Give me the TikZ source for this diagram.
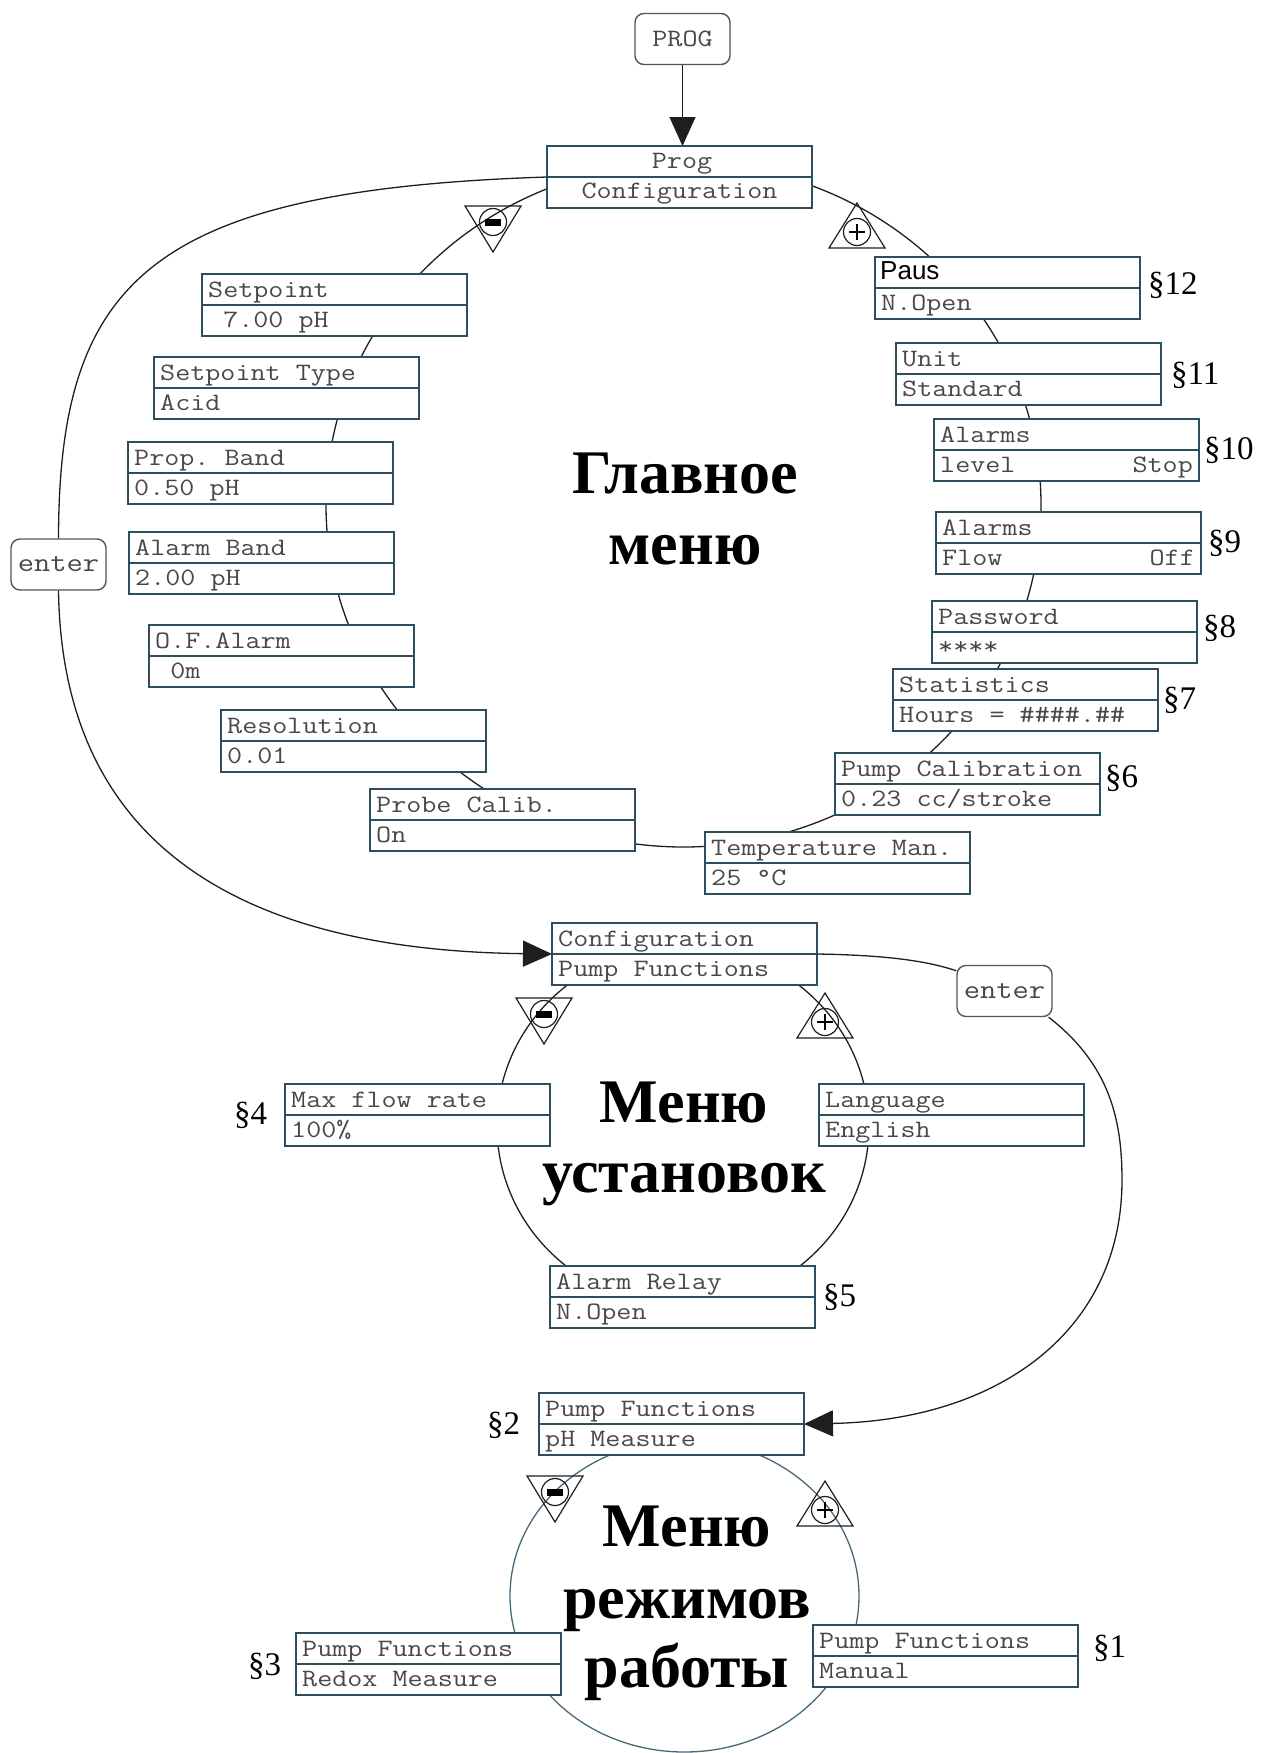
\documentclass[tikz,border=0pt]{standalone}
\usepackage{fontspec}
\usepackage{graphicx}
\newfontfamily\rusfont{Liberation Serif}
\newfontfamily\sansf{Liberation Sans}
\usetikzlibrary{arrows.meta}
\definecolor{boxc}{RGB}{44,78,94}
\definecolor{txtc}{RGB}{72,72,72}
\definecolor{ringc}{RGB}{30,30,30}
\definecolor{ringb}{RGB}{70,105,120}
\definecolor{btnc}{RGB}{85,85,85}
\newcommand\bt[1]{\scalebox{1.17}[1]{\fontsize{25}{30}\selectfont\ttfamily #1}}
\newcommand\btl[1]{\scalebox{1.17}[1]{\fontsize{27}{30}\selectfont\ttfamily #1}}
\newcommand\menubox[5]{%
  \node[mb] (#1) at ({#2+132.5},{#3+31}) {};
  \draw[mbl] (#1.west) -- (#1.east);
  \node[mt] at ({#2+6},{#3+23}) {\bt{#4}};
  \node[mt] at ({#2+6},{#3+53}) {\bt{#5}};
}
\newcommand\mtri[2]{%
  \draw[sym] ({#1-28},#2) -- ({#1+28},#2) -- (#1,{#2+46}) -- cycle;
  \draw[sym] (#1,{#2+16}) circle (13.5pt);
  \fill[black] ({#1-8},{#2+12.5}) rectangle ({#1+8},{#2+19.5});
}
\newcommand\ptri[2]{%
  \draw[sym] (#1,#2) -- ({#1+28},{#2+45}) -- ({#1-28},{#2+45}) -- cycle;
  \draw[sym] (#1,{#2+29}) circle (13.5pt);
  \draw[line width=2pt] ({#1-8},{#2+29}) -- ({#1+8},{#2+29}) (#1,{#2+21}) -- (#1,{#2+37});
}
\begin{document}
\frenchspacing
\begin{tikzpicture}[x=1pt,y=-1pt,
  mb/.style={draw=boxc, line width=2.2pt, fill=white, minimum width=265pt, minimum height=62pt, inner sep=0pt, outer sep=0pt},
  mbl/.style={draw=boxc, line width=2.2pt},
  mt/.style={anchor=base west, inner sep=0pt, text=txtc},
  btn/.style={draw=btnc, line width=1.4pt, rounded corners=9pt, fill=white, minimum width=95pt, minimum height=51pt, inner sep=0pt, text=txtc},
  ring/.style={draw=ringc, line width=1.3pt},
  conn/.style={draw=ringc, line width=1.3pt},
  arr/.style={-{Triangle[length=29pt,width=26pt]}},
  sym/.style={draw=ringc, line width=1.2pt},
  sec/.style={anchor=west, inner sep=0pt, font=\rusfont\fontsize{33}{36}\selectfont},
  ttl/.style={anchor=base, inner sep=0pt, font=\rusfont\bfseries\fontsize{62}{71}\selectfont}]
\useasboundingbox (0,0) rectangle (1261,1753);

% menu rings
\draw[ring] (683.5,505) ellipse [x radius=357.5pt, y radius=342pt];
\draw[ring] (683,1126) ellipse [x radius=186pt, y radius=180pt];
\draw[ring, draw=ringb] (684.5,1596) ellipse [x radius=174.5pt, y radius=156pt];

% PROG button
\node[btn] (progbtn) at (682.5,39) {\bt{PROG}};

% main menu
\node[mb] (prog) at (679.5,177) {};
\draw[mbl] (prog.west) -- (prog.east);
\node[anchor=base, inner sep=0pt, text=txtc] at (682,168) {\bt{Prog}};
\node[anchor=base, inner sep=0pt, text=txtc] at (679.5,198) {\bt{Configuration}};

\menubox{setpoint}{202}{274}{Setpoint}{\phantom{0}7.00 pH}
\menubox{sptype}{154}{357}{Setpoint Type}{Acid}
\menubox{propband}{128}{442}{Prop. Band}{0.50 pH}
\menubox{alarmband}{129}{532}{Alarm Band}{2.00 pH}
\menubox{ofalarm}{149}{625}{O.F.Alarm}{\phantom{0}0m}
\menubox{resolution}{221}{710}{Resolution}{0.01}
\menubox{probecal}{370}{789}{Probe Calib.}{On}
\menubox{temp}{705}{832}{Temperature Man.}{25 °C}
\menubox{pumpcal}{835}{753}{Pump Calibration}{0.23 cc/stroke}
\menubox{statistics}{893}{669}{Statistics}{Hours = \#\#\#\#.\#\#}
\menubox{password}{932}{601}{Password}{****}
\menubox{alflow}{936}{512}{Alarms}{Flow}
\node[mt, anchor=base east] at (1195,565) {\bt{Off}};
\menubox{allevel}{934}{419}{Alarms}{level}
\node[mt, anchor=base east] at (1193,472) {\bt{Stop}};
\menubox{unit}{896}{343}{Unit}{Standard}
\node[mb] (paus) at (1007.5,288) {};
\draw[mbl] (paus.west) -- (paus.east);
\node[mt, text=black] at (880,279) {\sansf\fontsize{26}{30}\selectfont Paus};
\node[mt] at (881,310) {\bt{N.Open}};

% setup menu
\menubox{config}{552}{923}{Configuration}{Pump Functions}
\menubox{maxflow}{285}{1084}{Max flow rate}{100\%}
\menubox{language}{819}{1084}{Language}{English}
\menubox{alarmrelay}{550}{1266}{Alarm Relay}{N.Open}

% mode menu
\menubox{phmeasure}{539}{1393}{Pump Functions}{pH Measure}
\menubox{redox}{296}{1633}{Pump Functions}{Redox Measure}
\menubox{manual}{813}{1625}{Pump Functions}{Manual}

% +/- symbols
\mtri{493}{206}
\ptri{857}{203}
\mtri{544}{998}
\ptri{825}{993}
\mtri{555}{1476}
\ptri{825}{1481}

% section labels
\node[sec] (s12) at (1148,285) {§12};
\node[sec] (s11) at (1171,375) {§11};
\node[sec] (s10) at (1204,450) {§10};
\node[sec] (s9) at (1208,543) {§9};
\node[sec] (s8) at (1203,628) {§8};
\node[sec] (s7) at (1163,700) {§7};
\node[sec] (s6) at (1105,778) {§6};
\node[sec] (s5) at (823,1297) {§5};
\node[sec] (s4) at (234,1115) {§4};
\node[sec] (s2) at (487,1425) {§2};
\node[sec] (s3) at (248,1666) {§3};
\node[sec] (s1) at (1093,1648) {§1};

% titles
\node[ttl] (t1) at (685,493) {Главное};
\node[ttl] (t2) at (685,564) {меню};
\node[ttl] (t3) at (684,1122) {Меню};
\node[ttl] (t4) at (684,1192) {установок};
\node[ttl] (t5) at (687,1546) {Меню};
\node[ttl] (t6) at (687,1618) {режимов};
\node[ttl] (t7) at (687,1687) {работы};

% enter buttons
\node[btn] (enterL) at (58.5,564.5) {\btl{enter}};
\node[btn] (enterR) at (1004.5,991) {\btl{enter}};

% connectors
\draw[conn, arr] (progbtn.south) -- (progbtn.south |- prog.north);
\draw[conn] (prog.west) .. controls (150,190) and (59,280) .. (enterL.north);
\draw[conn, arr] (enterL.south) .. controls (62,830) and (220,950) .. (config.west);
\draw[conn] (config.east) .. controls (880,955) and (925,960) .. ([yshift=-6pt]enterR.north west);
\draw[conn, arr] ([xshift=-4pt]enterR.south east) .. controls (1110,1065) and (1122,1120) .. (1122,1180)
   .. controls (1122,1330) and (1000,1420) .. (phmeasure.east);
\end{tikzpicture}
\end{document}
